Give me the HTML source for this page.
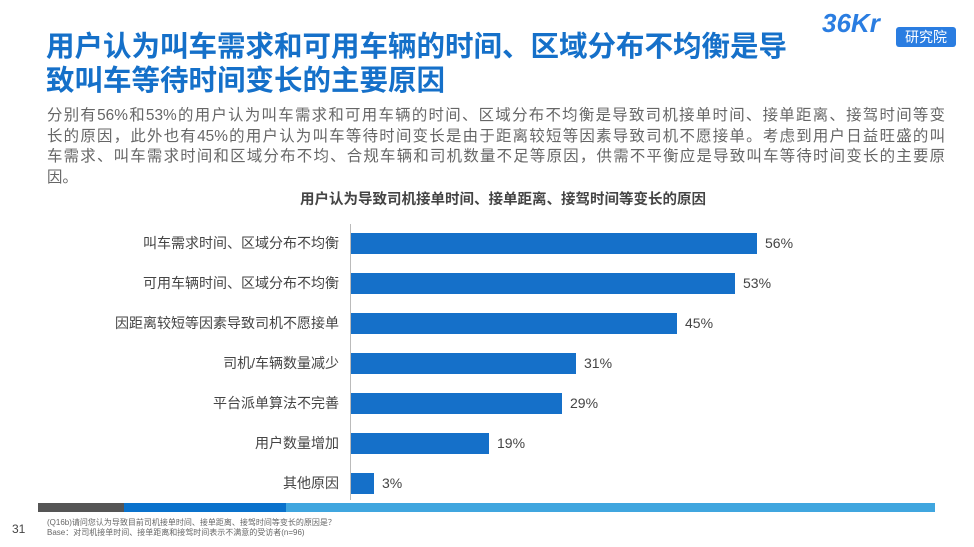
<!DOCTYPE html><html><head><meta charset="utf-8"><style>
body{margin:0;width:974px;height:547px;background:#fff;position:relative;overflow:hidden;font-family:"Liberation Sans","Noto Sans CJK SC",sans-serif}
.t{position:absolute;left:46px;top:30px;font-size:28.5px;font-weight:bold;color:#1570c9;line-height:34px;white-space:nowrap}
.p{position:absolute;left:47px;top:106px;width:898px;font-size:15.4px;color:#666;line-height:20.5px}
.p div{text-align:justify;text-align-last:justify;white-space:nowrap}
.ct{position:absolute;left:0;width:1006px;top:188px;text-align:center;font-size:14.5px;font-weight:bold;color:#444}
.l{position:absolute;right:635px;font-size:14px;color:#444;text-align:right;white-space:nowrap;line-height:20px}
.b{position:absolute;left:351px;height:21px;background:#1570c9}
.v{position:absolute;font-size:14px;color:#444;line-height:20px}
.ax{position:absolute;left:350px;top:224px;width:1px;height:276px;background:#bbb}
</style></head><body>
<div class="t">用户认为叫车需求和可用车辆的时间、区域分布不均衡是导<br>致叫车等待时间变长的主要原因</div>
<div style="position:absolute;left:822px;top:8px;font-size:26px;font-weight:bold;color:#2a7de1;font-style:italic">36Kr</div>
<div style="position:absolute;left:896px;top:27px;width:60px;height:20px;background:#2a7de1;border-radius:3px;color:#fff;font-size:14px;line-height:20px;text-align:center">研究院</div>
<div class="p"><div>分别有56%和53%的用户认为叫车需求和可用车辆的时间、区域分布不均衡是导致司机接单时间、接单距离、接驾时间等变</div><div>长的原因，此外也有45%的用户认为叫车等待时间变长是由于距离较短等因素导致司机不愿接单。考虑到用户日益旺盛的叫</div><div>车需求、叫车需求时间和区域分布不均、合规车辆和司机数量不足等原因，供需不平衡应是导致叫车等待时间变长的主要原</div><div style="text-align-last:left">因。</div></div>
<div class="ct">用户认为导致司机接单时间、接单距离、接驾时间等变长的原因</div>
<div class="ax"></div>
<div class="l" style="top:233px">叫车需求时间、区域分布不均衡</div><div class="b" style="top:233px;width:406px"></div><div class="v" style="left:765px;top:233px">56%</div>
<div class="l" style="top:273px">可用车辆时间、区域分布不均衡</div><div class="b" style="top:273px;width:384px"></div><div class="v" style="left:743px;top:273px">53%</div>
<div class="l" style="top:313px">因距离较短等因素导致司机不愿接单</div><div class="b" style="top:313px;width:326px"></div><div class="v" style="left:685px;top:313px">45%</div>
<div class="l" style="top:353px">司机/车辆数量减少</div><div class="b" style="top:353px;width:225px"></div><div class="v" style="left:584px;top:353px">31%</div>
<div class="l" style="top:393px">平台派单算法不完善</div><div class="b" style="top:393px;width:211px"></div><div class="v" style="left:570px;top:393px">29%</div>
<div class="l" style="top:433px">用户数量增加</div><div class="b" style="top:433px;width:138px"></div><div class="v" style="left:497px;top:433px">19%</div>
<div class="l" style="top:473px">其他原因</div><div class="b" style="top:473px;width:23px"></div><div class="v" style="left:382px;top:473px">3%</div>
<div style="position:absolute;top:503px;left:38px;width:86px;height:9px;background:#555"></div>
<div style="position:absolute;top:503px;left:124px;width:162px;height:9px;background:#0a72cc"></div>
<div style="position:absolute;top:503px;left:286px;width:649px;height:9px;background:#40a6df"></div>
<div style="position:absolute;left:12px;top:522px;font-size:12px;color:#444">31</div>
<div style="position:absolute;left:47px;top:518px;font-size:8px;color:#666;line-height:10px">(Q16b)请问您认为导致目前司机接单时间、接单距离、接驾时间等变长的原因是？<br>Base：对司机接单时间、接单距离和接驾时间表示不满意的受访者(n=96)</div>
</body></html>
